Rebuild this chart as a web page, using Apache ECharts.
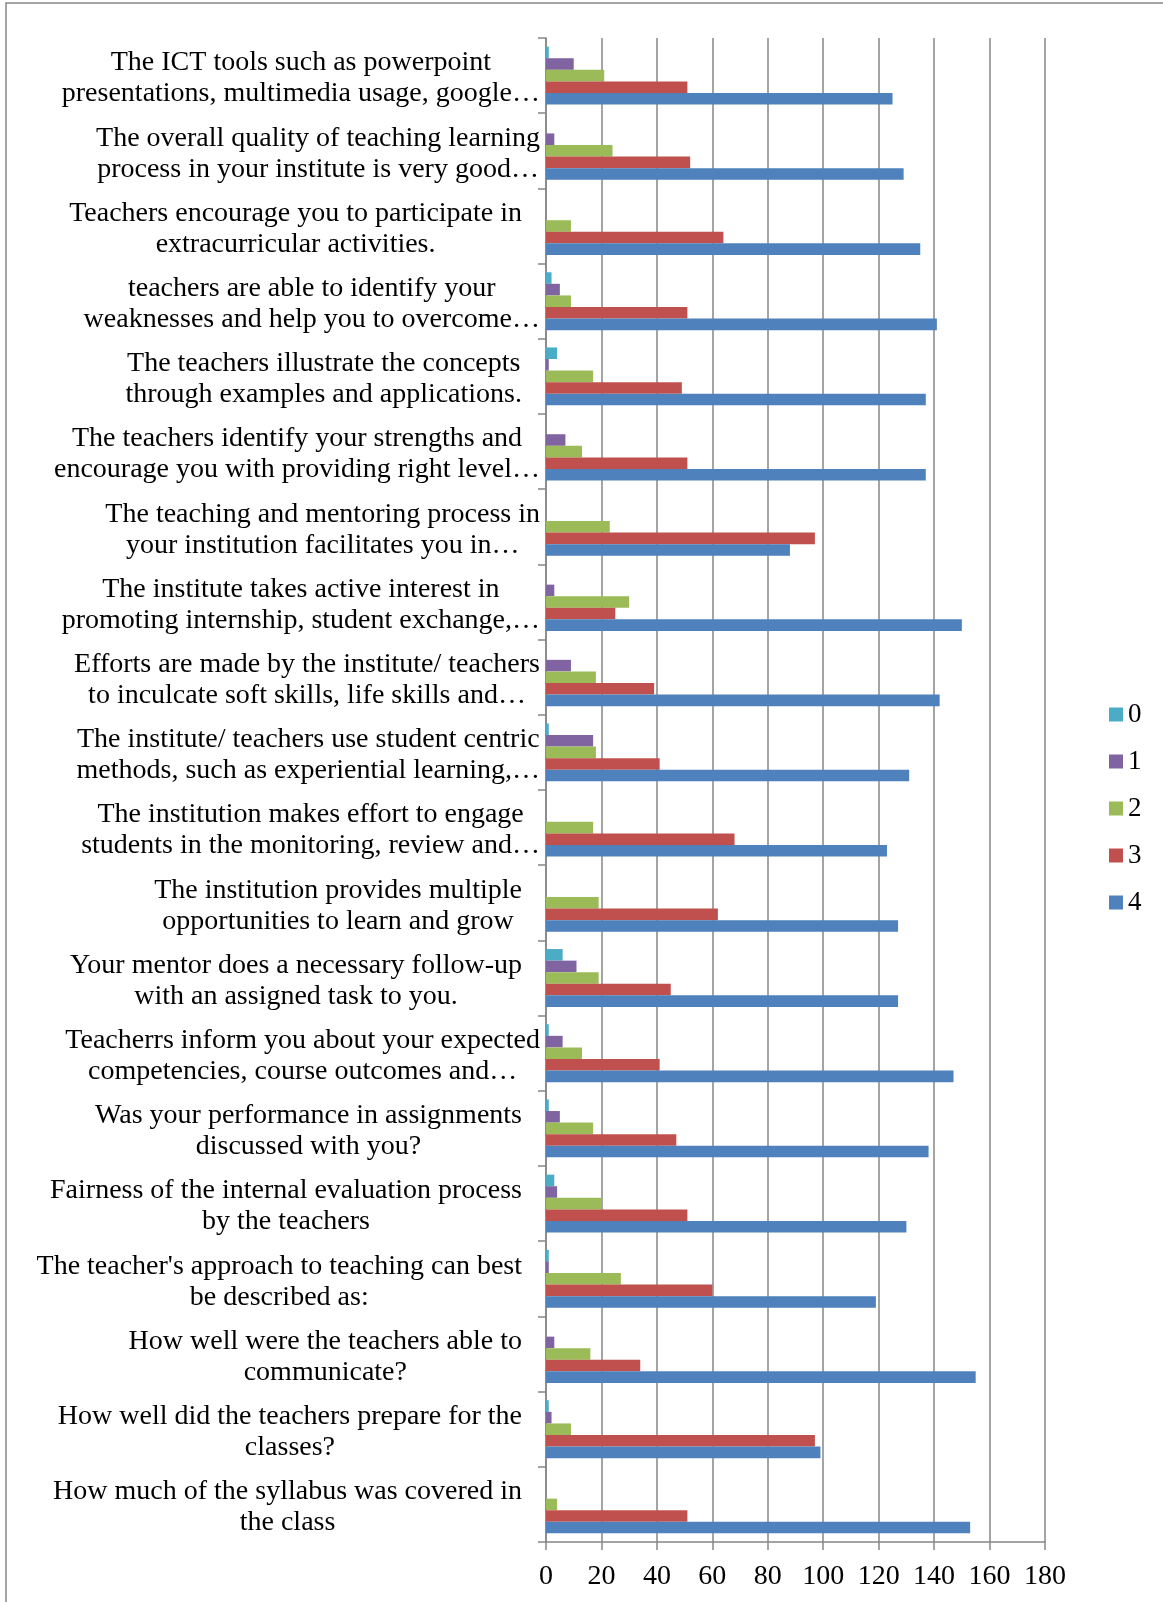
<!DOCTYPE html>
<html>
<head>
<meta charset="utf-8">
<script src="https://cdn.jsdelivr.net/npm/echarts@6/dist/echarts.min.js"></script>
<style>
  html, body { margin: 0; padding: 0; background: #fff; }
  #chart { width: 1163px; height: 1602px; }
</style>
</head>
<body>
<div id="chart"></div>
<script>
// Categories, top to bottom as in the reference
const categories = [
  "The ICT tools such as powerpoint\npresentations, multimedia usage, google…",
  "The overall quality of teaching learning\nprocess in your institute is very good…",
  "Teachers encourage you to participate in\nextracurricular activities.",
  "teachers are able to identify your\nweaknesses and help you to overcome…",
  "The teachers illustrate the concepts\nthrough examples and applications.",
  "The teachers identify your strengths and\nencourage you with providing right level…",
  "The teaching and mentoring process in\nyour institution facilitates you in…",
  "The institute takes active interest in\npromoting internship, student exchange,…",
  "Efforts are made by the institute/ teachers\nto inculcate soft skills, life skills and…",
  "The institute/ teachers use student centric\nmethods, such as experiential learning,…",
  "The institution makes effort to engage\nstudents in the monitoring, review and…",
  "The institution provides multiple\nopportunities to learn and grow",
  "Your mentor does a necessary follow-up\nwith an assigned task to you.",
  "Teacherrs inform you about your expected\ncompetencies, course outcomes and…",
  "Was your performance in assignments\ndiscussed with you?",
  "Fairness of the internal evaluation process\nby the teachers",
  "The teacher's approach to teaching can best\nbe described as:",
  "How well were the teachers able to\ncommunicate?",
  "How well did the teachers prepare for the\nclasses?",
  "How much of the syllabus was covered in\nthe class"
];
const seriesNames = ["0", "1", "2", "3", "4"];
const values0 = [1, 0, 0, 2, 4, 0, 0, 0, 0, 1, 0, 0, 6, 1, 1, 3, 1, 0, 1, 0];
const values1 = [10, 3, 0, 5, 1, 7, 0, 3, 9, 17, 0, 0, 11, 6, 5, 4, 1, 3, 2, 0];
const values2 = [21, 24, 9, 9, 17, 13, 23, 30, 18, 18, 17, 19, 19, 13, 17, 20, 27, 16, 9, 4];
const values3 = [51, 52, 64, 51, 49, 51, 97, 25, 39, 41, 68, 62, 45, 41, 47, 51, 60, 34, 97, 51];
const values4 = [125, 129, 135, 141, 137, 137, 88, 150, 142, 131, 123, 127, 127, 147, 138, 130, 119, 155, 99, 153];
const xTicks = [0, 180, 20];

const colors = ["#4BACC6", "#8064A2", "#9BBB59", "#C0504D", "#4F81BD"];
const FONT = '"Liberation Serif", "DejaVu Serif", serif';

const chart = echarts.init(document.getElementById('chart'), null, { renderer: 'canvas' });

function labelFormatter(val) {
  const lines = val.split('\n');
  const hasEll = lines.some(l => l.endsWith('…'));
  return lines.map(l => '{c|' + l + '}' + (hasEll ? '' : '{sp|}')).join('\n');
}

const allValues = [values0, values1, values2, values3, values4];

const option = {
  animation: false,
  backgroundColor: '#ffffff',
  graphic: [{
    type: 'rect',
    shape: { x: 6, y: 3, width: 1300, height: 1700 },
    style: { fill: 'none', stroke: '#868686', lineWidth: 1.5 },
    silent: true
  }],
  legend: {
    orient: 'vertical',
    left: 1109,
    top: 701,
    padding: 0,
    itemWidth: 14,
    itemHeight: 14,
    itemGap: 20,
    icon: 'rect',
    textStyle: { fontFamily: FONT, fontSize: 27, color: '#000', lineHeight: 26 },
    data: seriesNames
  },
  grid: { left: 546, right: 118, top: 38, bottom: 60, containLabel: false },
  xAxis: {
    type: 'value',
    min: xTicks[0], max: xTicks[1], interval: xTicks[2],
    axisLine: { show: true, lineStyle: { color: '#868686', width: 1.5 } },
    axisTick: { show: true, length: 8, lineStyle: { color: '#868686', width: 1.5 } },
    splitLine: { show: true, lineStyle: { color: '#868686', width: 1.5 } },
    axisLabel: { fontFamily: FONT, fontSize: 28, color: '#000', margin: 21 }
  },
  yAxis: {
    type: 'category',
    inverse: true,
    data: categories,
    axisLine: { show: true, lineStyle: { color: '#868686', width: 1.5 } },
    axisTick: { show: true, length: 8, alignWithLabel: false, lineStyle: { color: '#868686', width: 1.5 } },
    axisLabel: {
      margin: 6,
      padding: [6, 0, 0, 0],
      formatter: labelFormatter,
      rich: {
        c: { fontFamily: FONT, fontSize: 28, color: '#000', align: 'center', lineHeight: 31 },
        sp: { width: 18, align: 'right', fontSize: 28, lineHeight: 31 }
      }
    }
  },
  series: seriesNames.map((n, i) => ({
    name: n,
    type: 'bar',
    data: allValues[i],
    barGap: '0%',
    barCategoryGap: '23%',
    itemStyle: { color: colors[i] }
  }))
};
chart.setOption(option);
</script>
</body>
</html>
